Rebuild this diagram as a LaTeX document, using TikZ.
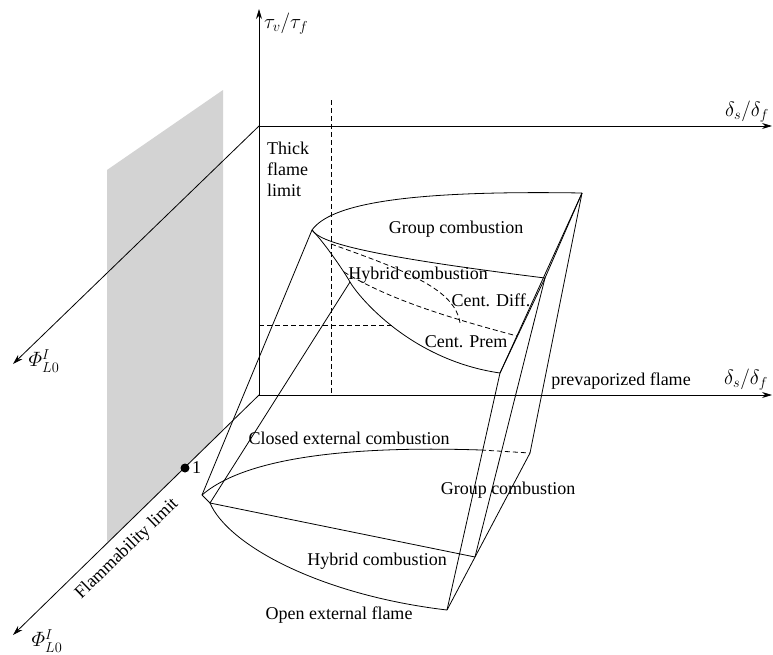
\documentclass[tikz,border=0pt]{standalone}
\usepackage{amsmath}
\usepackage{fontspec}
\setmainfont{Liberation Serif}
\usetikzlibrary{arrows.meta}
\definecolor{flamegray}{RGB}{211,211,211}
\begin{document}
\begin{tikzpicture}[x=1pt,y=-1pt,
  ln/.style={line width=0.8pt,line join=round},
  dsh/.style={line width=0.8pt,dash pattern=on 5pt off 3pt},
  axis/.style={line width=0.8pt,-{Stealth[length=10pt,width=6pt]}},
  lbl/.style={font=\fontsize{18}{21}\selectfont,inner sep=0pt},
  mlb/.style={font=\fontsize{20}{24}\selectfont,inner sep=0pt}]
\useasboundingbox (0,0) rectangle (773,654);
% shaded flammability plane
\fill[flamegray] (107,170) -- (223,90) -- (223,431) -- (107,544) -- cycle;
% axes
\coordinate (Ou) at (259,126);
\coordinate (Ol) at (259,395);
\coordinate (Tz) at (259,9);
\coordinate (Xu) at (772,126);
\coordinate (Xl) at (772,395);
\coordinate (Pu) at (13,364);
\coordinate (Pl) at (13,635);
\draw[axis] (Ol) -- (Tz);
\draw[axis] (Ou) -- (Xu);
\draw[axis] (Ol) -- (Xl);
\draw[axis] (Ou) -- (Pu);
\draw[axis] (Ol) -- (Pl);
% dashed thick flame limit lines
\coordinate (Dt) at (331,100);
\coordinate (Db) at (331,395);
\coordinate (Hl) at (259,325);
\coordinate (Hr) at (392,325);
\draw[dsh] (Dt) -- (Db);
\draw[dsh] (Hl) -- (Hr);
% upper surface points
\coordinate (A) at (312,230);
\coordinate (B) at (582,193);
\coordinate (C) at (545,278);
\coordinate (D) at (500,373);
\coordinate (P) at (350,282);
% lower surface points
\coordinate (E1) at (202,495);
\coordinate (E2) at (210,503);
\coordinate (X) at (481,450);
\coordinate (F) at (530,453);
\coordinate (H) at (475,557);
\coordinate (G) at (447,610);
% upper surface
\draw[ln] (A) .. controls (330,205) and (400,190) .. (B);
\draw[ln] (A) .. controls (320,242) and (360,255) .. (C);
\draw[ln] (A) .. controls (322,240) and (342,268) .. (P)
              .. controls (358,296) and (410,360) .. (D);
\draw[ln] (B) -- (C);
\draw[ln] (B) -- (D);
\draw[ln] (C) -- (D);
\coordinate (d1s) at (331,244);
\coordinate (d1e) at (460,323);
\coordinate (d2s) at (344,272);
\coordinate (d2e) at (517,336);
\draw[dsh] (d1s) .. controls (410,272) and (455,290) .. (d1e);
\draw[dsh] (d2s) .. controls (390,300) and (450,318) .. (d2e);
% connecting edges
\draw[ln] (A) -- (E1);
\draw[ln] (P) -- (E2);
\draw[ln] (D) -- (G);
\draw[ln] (C) -- (H);
\draw[ln] (B) -- (F);
% lower surface
\draw[ln] (E1) -- (E2);
\draw[ln] (E1) .. controls (240,462) and (330,445) .. (X);
\draw[dsh] (X) -- (F);
\draw[ln] (E2) -- (H);
\draw[ln] (E2) .. controls (228,545) and (320,595) .. (G);
\draw[ln] (G) -- (F);
% point 1
\node[circle,fill,inner sep=0pt,minimum size=9pt] (one) at (185,468) {};
\node[lbl,anchor=west] (onel) at (192,468) {1};
% labels
\node[mlb] (ttau) at (286,24) {$\tau_v/\tau_f$};
\node[mlb] (tdu) at (747,112) {$\delta_s/\delta_f$};
\node[mlb] (tdl) at (746,380) {$\delta_s/\delta_f$};
\node[mlb] (tpu) at (44,361) {$\varPhi^{I}_{L0}$};
\node[mlb] (tpl) at (47,641) {$\varPhi^{I}_{L0}$};
\node[lbl,align=left,anchor=north west] (tth) at (267,142) {Thick\\flame\\limit};
\node[lbl] (tgu) at (456,229) {Group combustion};
\node[lbl] (thu) at (418,275) {Hybrid combustion};
\node[lbl] (tcd) at (491,300) {Cent. Diff.};
\node[lbl] (tcp) at (466,342) {Cent. Prem};
\node[lbl] (tpv) at (621,381) {prevaporized flame};
\node[lbl] (tce) at (349,438) {Closed external combustion};
\node[lbl] (tgl) at (508,490) {Group combustion};
\node[lbl] (thl) at (377,561) {Hybrid combustion};
\node[lbl] (toe) at (339,615) {Open external flame};
\node[lbl,rotate=44] (tfl) at (127,549) {Flammability limit};
\end{tikzpicture}
\end{document}
